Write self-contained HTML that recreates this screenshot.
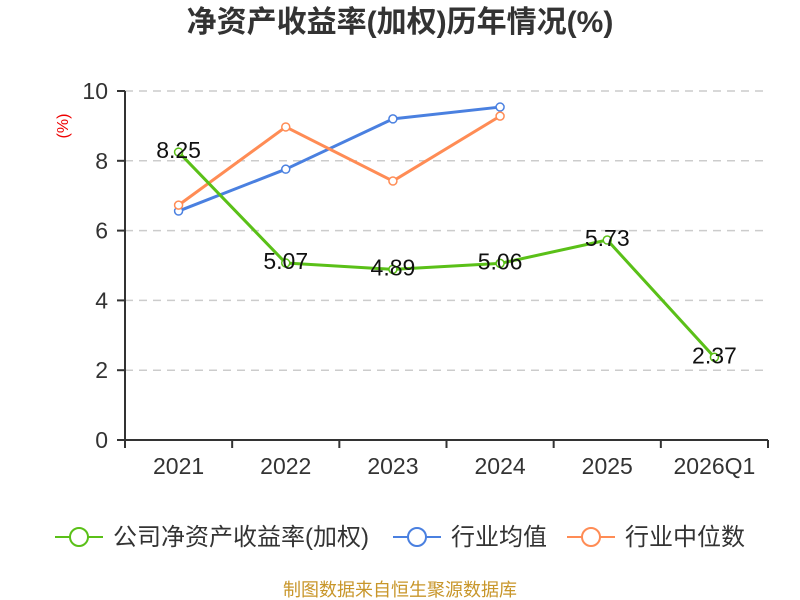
<!DOCTYPE html>
<html><head><meta charset="utf-8">
<style>
body{margin:0;background:#fff;}
svg{display:block;font-family:"Liberation Sans","Noto Sans CJK SC",sans-serif;}
</style></head>
<body>
<svg id="chart" width="800" height="600">
<text x="400" y="32" text-anchor="middle" font-size="30" font-weight="bold" fill="#333">净资产收益率(加权)历年情况(%)</text>
<text x="68" y="126" text-anchor="middle" font-size="16" fill="#e00" transform="rotate(-90 68 126)">(%)</text>
<g id="grid"></g><g id="axes"></g><g id="series"></g>
<g>
 <g><line x1="55" y1="537" x2="103" y2="537" stroke="#5ac018" stroke-width="2"/><circle cx="79" cy="537" r="9" fill="#fff" stroke="#5ac018" stroke-width="2"/><text x="113" y="545" font-size="24" fill="#333">公司净资产收益率(加权)</text></g>
 <g><line x1="393" y1="537" x2="441" y2="537" stroke="#4a80e0" stroke-width="2"/><circle cx="417" cy="537" r="9" fill="#fff" stroke="#4a80e0" stroke-width="2"/><text x="451" y="545" font-size="24" fill="#333">行业均值</text></g>
 <g><line x1="567" y1="537" x2="615" y2="537" stroke="#ff8c55" stroke-width="2"/><circle cx="591" cy="537" r="9" fill="#fff" stroke="#ff8c55" stroke-width="2"/><text x="625" y="545" font-size="24" fill="#333">行业中位数</text></g>
</g>
<text x="400" y="596" text-anchor="middle" font-size="18" fill="#c8962a">制图数据来自恒生聚源数据库</text>
</svg>
<script>
const categories=["2021","2022","2023","2024","2025","2026Q1"];
const companyValues=[8.25,5.07,4.89,5.06,5.73,2.37];
const industryAvg=[6.56,7.76,9.2,9.54];
const industryMedian=[6.73,8.97,7.42,9.28];
const yTicks=[0,2,4,6,8,10];
const NS="http://www.w3.org/2000/svg";
const L=125,R=768,T=91,B=440;
const bw=(R-L)/categories.length;
const x=i=>L+bw*(i+0.5);
const y=v=>B-(v/10)*(B-T);
function mk(tag,attrs,parent){const e=document.createElementNS(NS,tag);for(const k in attrs)e.setAttribute(k,attrs[k]);parent.appendChild(e);return e;}
const grid=document.getElementById('grid'),axes=document.getElementById('axes'),ser=document.getElementById('series');
yTicks.forEach(t=>{
 if(t>0){const g=mk('line',{x1:L,x2:R,y1:y(t),y2:y(t),stroke:'#ccc','stroke-dasharray':'8,6','stroke-width':1.5},grid);
 
 }
 const tk=mk('line',{x1:L-8,x2:L,y1:y(t),y2:y(t),stroke:'#333','stroke-width':2},axes);
 
 
 const lb=mk('text',{x:L-17,y:y(t)+8,'text-anchor':'end','font-size':23,fill:'#333'},axes);lb.textContent=t;
 
 
});
const ya=mk('line',{x1:L,x2:L,y1:T,y2:B,stroke:'#333','stroke-width':2},axes);


const xa=mk('line',{x1:L,x2:R,y1:B,y2:B,stroke:'#333','stroke-width':2},axes);


for(let i=0;i<=categories.length;i++){const tk=mk('line',{x1:L+bw*i,x2:L+bw*i,y1:B,y2:B+8,stroke:'#333','stroke-width':2},axes);
 
 }
categories.forEach((c,i)=>{const t=mk('text',{x:x(i),y:B+34,'text-anchor':'middle','font-size':23,fill:'#333'},axes);t.textContent=c;
 
 });
function series(vals,color,name,labels){
 const p=mk('polyline',{points:vals.map((v,i)=>x(i)+','+y(v)).join(' '),fill:'none',stroke:color,'stroke-width':3,'stroke-linejoin':'round'},ser);
 
 
 vals.forEach((v,i)=>{const c=mk('circle',{cx:x(i),cy:y(v),r:4,fill:'#fff',stroke:color,'stroke-width':1.5},ser);
  
  });
 if(labels)vals.forEach((v,i)=>{const t=mk('text',{x:x(i),y:y(v)+6,'text-anchor':'middle','font-size':23,fill:'#111'},ser);t.textContent=v.toFixed(2);
  
  });
}
series(industryAvg,'#4a80e0','industry-avg',false);
series(industryMedian,'#ff8c55','industry-median',false);
series(companyValues,'#5ac018','company',true);
</script>
</body></html>
